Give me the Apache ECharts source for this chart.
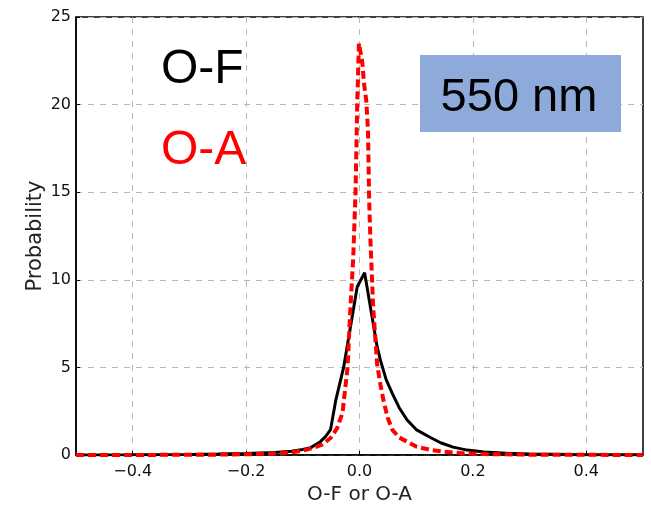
<!DOCTYPE html>
<html>
<head>
<meta charset="utf-8">
<script src="https://cdn.jsdelivr.net/npm/echarts@6/dist/echarts.min.js"></script>
<style>html,body{margin:0;padding:0;background:#fff}#c{width:651px;height:506px}</style>
</head>
<body>
<div id="c"></div>
<script>
// O-F distribution (solid black)
const ofX = [-0.5,-0.4,-0.3,-0.25,-0.2,-0.15,-0.12,-0.1,-0.086,-0.069,-0.06,-0.051,-0.042,-0.028,-0.004,0.009,0.031,0.037,0.047,0.058,0.07,0.084,0.1,0.125,0.143,0.165,0.19,0.22,0.26,0.3,0.4,0.5];
const ofY = [0.0,0.01,0.03,0.05,0.08,0.14,0.22,0.32,0.42,0.76,1.05,1.45,3.1,5.0,9.6,10.4,6.2,5.4,4.3,3.5,2.7,2.0,1.45,1.0,0.7,0.45,0.28,0.17,0.1,0.06,0.02,0.01];
// O-A distribution (dashed red)
const oaX = [-0.5,-0.4,-0.3,-0.25,-0.2,-0.15,-0.12,-0.1,-0.08,-0.065,-0.051,-0.04,-0.03,-0.021,-0.017,-0.011,-0.007,-0.004,-0.001,0.005,0.008,0.012,0.015,0.017,0.019,0.024,0.031,0.037,0.043,0.05,0.058,0.07,0.084,0.1,0.125,0.15,0.18,0.22,0.3,0.4,0.5];
const oaY = [0.0,0.005,0.01,0.02,0.04,0.08,0.15,0.25,0.42,0.6,0.97,1.5,2.4,5.0,7.8,11.3,15.0,20.0,23.5,22.4,21.2,20.2,18.5,14.6,12.5,8.5,5.2,4.0,3.0,2.1,1.43,1.0,0.76,0.48,0.29,0.18,0.1,0.05,0.02,0.01,0.0];
const xTicks = [-0.4,-0.2,0.0,0.2,0.4];
const yTicks = [0,5,10,15,20,25];
const legendLabels = ['O-F','O-A'];
const boxLabel = '550 nm';
const xName = 'O-F or O-A';
const yName = 'Probability';

const chart = echarts.init(document.getElementById('c'), null, {renderer:'canvas'});
const pairs = (xs, ys) => xs.map((x,i)=>[x, ys[i]]);
const fmt = v => (v < 0 ? '\u2212' : '') + Math.abs(v).toFixed(1);
const tickFont = {fontFamily:'DejaVu Sans', fontSize:16, color:'#111'};
chart.setOption({
  animation:false,
  grid:{left:76, right:8, top:17, bottom:51, show:true, borderColor:'#000', borderWidth:1.5, backgroundColor:'transparent', containLabel:false, outerBoundsMode:'none'},
  xAxis:{
    type:'value', min:-0.5, max:0.5,
    name:xName, nameLocation:'middle', nameGap:29,
    nameTextStyle:{fontFamily:'DejaVu Sans', fontSize:20, color:'#222'},
    axisLine:{show:true, onZero:false, lineStyle:{color:'#000', width:1.5}},
    axisTick:{show:true, inside:true, length:4, customValues:xTicks, lineStyle:{color:'#000'}},
    axisLabel:{customValues:xTicks, formatter:fmt, margin:9, ...tickFont},
    splitLine:{show:true, lineStyle:{color:'#b8b8b8', type:[6,6], width:1}}
  },
  yAxis:{
    type:'value', min:0, max:25, interval:5,
    name:yName, nameLocation:'middle', nameGap:30, nameRotate:90, nameMoveOverlap:false,
    nameTextStyle:{fontFamily:'DejaVu Sans', fontSize:21, color:'#222'},
    axisLine:{show:true, onZero:false, lineStyle:{color:'#000', width:1.5}},
    axisTick:{show:true, inside:true, length:4, lineStyle:{color:'#000'}},
    axisLabel:{margin:5, formatter:v=>String(v), ...tickFont},
    splitLine:{show:true, lineStyle:{color:'#b8b8b8', type:[6,6], width:1}}
  },
  series:[
    {type:'line', name:legendLabels[0], data:pairs(ofX, ofY), showSymbol:false, symbol:'none',
     lineStyle:{color:'#000', width:3}, z:3},
    {type:'line', name:legendLabels[1], data:pairs(oaX, oaY), showSymbol:false, symbol:'none',
     lineStyle:{color:'#ff0000', width:4, type:[8,4]}, z:4}
  ],
  graphic:[
    {type:'text', left:161, top:46, style:{text:legendLabels[0], font:'48px "Liberation Sans", Arial, sans-serif', fill:'#000'}},
    {type:'text', left:161, top:127, style:{text:legendLabels[1], font:'48px "Liberation Sans", Arial, sans-serif', fill:'#ff0000'}},
    {type:'rect', shape:{x:420, y:55, width:201, height:77}, style:{fill:'#8eaadb'}, z:10},
    {type:'text', x:519, y:98, z:11, style:{text:boxLabel, font:'47px "Liberation Sans", Arial, sans-serif', fill:'#000', textAlign:'center', textVerticalAlign:'middle'}}
  ]
});
</script>
</body>
</html>
